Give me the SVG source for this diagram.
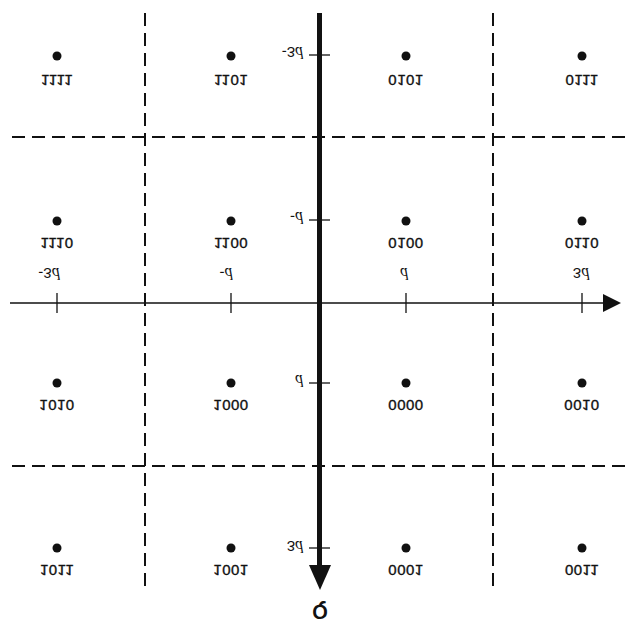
<svg xmlns="http://www.w3.org/2000/svg" width="635" height="628" viewBox="0 0 635 628">
<style>
.pt{fill:#111}
.lb{font-family:"Liberation Sans",Arial,sans-serif;font-size:15px;fill:#111;stroke:#111;stroke-width:0.35;text-anchor:middle;letter-spacing:0.5px}
.ax{font-family:"Liberation Sans",Arial,sans-serif;font-size:15px;fill:#111}
.it{font-family:"Liberation Serif","Times New Roman",serif;font-style:italic;font-size:16px}
.dash{stroke:#111;stroke-width:2;stroke-dasharray:13 7;fill:none}
.thin{stroke:#111;stroke-width:1.3;fill:none}
</style>
<rect width="635" height="628" fill="#fff"/>
<g id="connectors">
<line class="dash" x1="145" y1="13" x2="145" y2="590"/>
<line class="dash" x1="493" y1="13" x2="493" y2="590"/>
<line class="dash" x1="12" y1="137" x2="627" y2="137"/>
<line class="dash" x1="12" y1="466" x2="627" y2="466"/>
<line class="thin" x1="10" y1="303" x2="606" y2="303"/>
<polygon points="603,294 621,303 603,312" fill="#111"/>
<line x1="319.5" y1="13" x2="319.5" y2="568" stroke="#111" stroke-width="5"/>
<polygon points="309,565 331,565 320,590" fill="#111"/>
<line class="thin" x1="57" y1="293" x2="57" y2="313"/>
<line class="thin" x1="231" y1="293" x2="231" y2="313"/>
<line class="thin" x1="406" y1="293" x2="406" y2="313"/>
<line class="thin" x1="582" y1="293" x2="582" y2="313"/>
<line class="thin" x1="309" y1="55" x2="330" y2="55"/>
<line class="thin" x1="309" y1="220" x2="330" y2="220"/>
<line class="thin" x1="309" y1="383" x2="330" y2="383"/>
<line class="thin" x1="309" y1="548" x2="330" y2="548"/>
</g>
<g id="axis-labels">
<text class="ax" text-anchor="middle" transform="translate(49,268) scale(1,-1)">-3<tspan class="it">d</tspan></text>
<text class="ax" text-anchor="middle" transform="translate(226,268) scale(1,-1)">-<tspan class="it">d</tspan></text>
<text class="ax" text-anchor="middle" transform="translate(404,268) scale(1,-1)"><tspan class="it">d</tspan></text>
<text class="ax" text-anchor="middle" transform="translate(581,268) scale(1,-1)">3<tspan class="it">d</tspan></text>
<text class="ax" text-anchor="end" transform="translate(303,47) scale(1,-1)">-3<tspan class="it">d</tspan></text>
<text class="ax" text-anchor="end" transform="translate(303,212) scale(1,-1)">-<tspan class="it">d</tspan></text>
<text class="ax" text-anchor="end" transform="translate(303,375) scale(1,-1)"><tspan class="it">d</tspan></text>
<text class="ax" text-anchor="end" transform="translate(303,541) scale(1,-1)">3<tspan class="it">d</tspan></text>
<text font-family="Liberation Sans,Arial,sans-serif" font-size="20" font-weight="bold" fill="#111" text-anchor="middle" transform="translate(320,605) scale(1,-1)">Q</text>
</g>
<g id="p1111"><circle class="pt" cx="57" cy="56" r="4.5"/><text class="lb" transform="translate(57,75) scale(1,-1)">1111</text></g>
<g id="p1101"><circle class="pt" cx="231" cy="56" r="4.5"/><text class="lb" transform="translate(231,75) scale(1,-1)">1101</text></g>
<g id="p0101"><circle class="pt" cx="406" cy="56" r="4.5"/><text class="lb" transform="translate(406,75) scale(1,-1)">0101</text></g>
<g id="p0111"><circle class="pt" cx="582" cy="56" r="4.5"/><text class="lb" transform="translate(582,75) scale(1,-1)">0111</text></g>
<g id="p1110"><circle class="pt" cx="57" cy="221" r="4.5"/><text class="lb" transform="translate(57,238) scale(1,-1)">1110</text></g>
<g id="p1100"><circle class="pt" cx="231" cy="221" r="4.5"/><text class="lb" transform="translate(231,238) scale(1,-1)">1100</text></g>
<g id="p0100"><circle class="pt" cx="406" cy="221" r="4.5"/><text class="lb" transform="translate(406,238) scale(1,-1)">0100</text></g>
<g id="p0110"><circle class="pt" cx="582" cy="221" r="4.5"/><text class="lb" transform="translate(582,238) scale(1,-1)">0110</text></g>
<g id="p1010"><circle class="pt" cx="57" cy="383" r="4.5"/><text class="lb" transform="translate(57,400) scale(1,-1)">1010</text></g>
<g id="p1000"><circle class="pt" cx="231" cy="383" r="4.5"/><text class="lb" transform="translate(231,400) scale(1,-1)">1000</text></g>
<g id="p0000"><circle class="pt" cx="406" cy="383" r="4.5"/><text class="lb" transform="translate(406,400) scale(1,-1)">0000</text></g>
<g id="p0010"><circle class="pt" cx="582" cy="383" r="4.5"/><text class="lb" transform="translate(582,400) scale(1,-1)">0010</text></g>
<g id="p1011"><circle class="pt" cx="57" cy="548" r="4.5"/><text class="lb" transform="translate(57,565) scale(1,-1)">1011</text></g>
<g id="p1001"><circle class="pt" cx="231" cy="548" r="4.5"/><text class="lb" transform="translate(231,565) scale(1,-1)">1001</text></g>
<g id="p0001"><circle class="pt" cx="406" cy="548" r="4.5"/><text class="lb" transform="translate(406,565) scale(1,-1)">0001</text></g>
<g id="p0011"><circle class="pt" cx="582" cy="548" r="4.5"/><text class="lb" transform="translate(582,565) scale(1,-1)">0011</text></g>
</svg>
